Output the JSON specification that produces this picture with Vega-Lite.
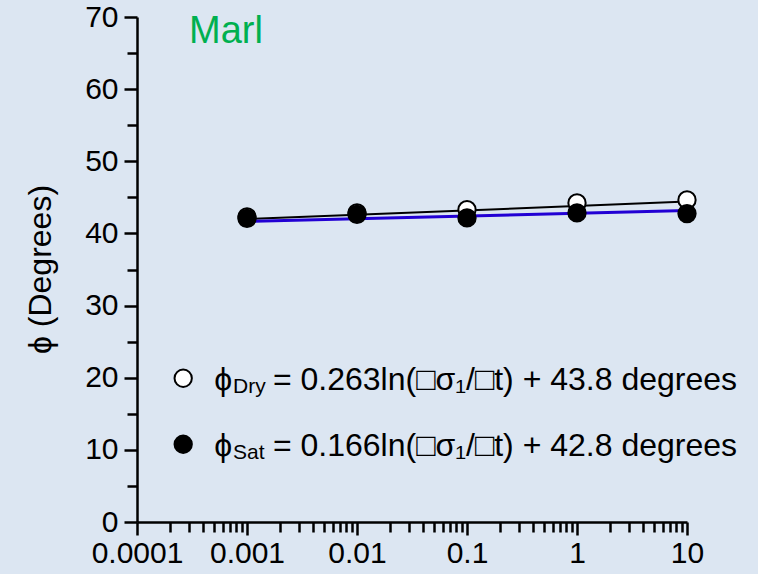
{
  "$schema": "https://vega.github.io/schema/vega-lite/v6.json",
  "width": 550,
  "height": 505,
  "autosize": "none",
  "padding": {"left": 137, "top": 17, "right": 71, "bottom": 52},
  "background": "#dce6f2",
  "config": {
    "view": {"stroke": null},
    "font": "Liberation Sans",
    "axis": {
      "grid": false,
      "domainColor": "black",
      "domainWidth": 2.5,
      "tickColor": "black",
      "tickWidth": 2.5,
      "labelFont": "Liberation Sans",
      "labelFontSize": 30,
      "labelColor": "black",
      "labelFlush": false,
      "labelOverlap": false,
      "labelBound": false,
      "titleFont": "Liberation Sans",
      "titleColor": "black",
      "titleFontWeight": "normal"
    }
  },
  "datasets": {
    "measured": [
      {"rate": 0.001, "phi": 42.3, "series": "Dry"},
      {"rate": 0.01, "phi": 42.84, "series": "Dry"},
      {"rate": 0.1, "phi": 43.3, "series": "Dry"},
      {"rate": 1, "phi": 44.23, "series": "Dry"},
      {"rate": 10, "phi": 44.65, "series": "Dry"},
      {"rate": 0.001, "phi": 42.08, "series": "Sat"},
      {"rate": 0.01, "phi": 42.63, "series": "Sat"},
      {"rate": 0.1, "phi": 42.15, "series": "Sat"},
      {"rate": 1, "phi": 42.84, "series": "Sat"},
      {"rate": 10, "phi": 42.75, "series": "Sat"}
    ],
    "fits": [
      {"rate": 0.001, "phi": 41.98, "series": "Dry"},
      {"rate": 10, "phi": 44.41, "series": "Dry"},
      {"rate": 0.001, "phi": 41.65, "series": "Sat"},
      {"rate": 10, "phi": 43.18, "series": "Sat"}
    ]
  },
  "layer": [
    {
      "data": {"name": "fits"},
      "transform": [{"filter": "datum.series === 'Dry'"}],
      "mark": {"type": "line", "color": "black", "strokeWidth": 2},
      "encoding": {
        "x": {
          "field": "rate", "type": "quantitative",
          "scale": {"type": "log", "domain": [0.0001, 10]},
          "axis": {
            "orient": "bottom", "title": null,
            "values": [0.0001, 0.001, 0.01, 0.1, 1, 10],
            "format": "~g", "tickSize": 13, "labelPadding": 3
          }
        },
        "y": {
          "field": "phi", "type": "quantitative",
          "scale": {"domain": [0, 70]},
          "axis": {
            "orient": "left",
            "title": "ϕ (Degrees)",
            "titleFontSize": 32,
            "titleAngle": 270,
            "titleX": -97,
            "titleY": 252,
            "titleAlign": "center",
            "titleBaseline": "middle",
            "values": [0, 10, 20, 30, 40, 50, 60, 70],
            "tickSize": 13, "labelPadding": 6
          }
        }
      }
    },
    {
      "data": {"name": "fits"},
      "transform": [{"filter": "datum.series === 'Sat'"}],
      "mark": {"type": "line", "color": "#2200d4", "strokeWidth": 3},
      "encoding": {
        "x": {"field": "rate", "type": "quantitative", "axis": null},
        "y": {"field": "phi", "type": "quantitative", "axis": null}
      }
    },
    {
      "data": {"name": "measured"},
      "transform": [{"filter": "datum.series === 'Dry'"}],
      "mark": {"type": "circle", "fill": "white", "stroke": "black", "strokeWidth": 2, "size": 300, "opacity": 1},
      "encoding": {
        "x": {
          "field": "rate", "type": "quantitative",
          "axis": {
            "orient": "bottom", "title": null, "domain": false, "labels": false,
            "tickSize": 10,
            "values": [0.0002, 0.0003, 0.0004, 0.0005, 0.0006, 0.0007, 0.0008, 0.0009,
                       0.002, 0.003, 0.004, 0.005, 0.006, 0.007, 0.008, 0.009,
                       0.02, 0.03, 0.04, 0.05, 0.06, 0.07, 0.08, 0.09,
                       0.2, 0.3, 0.4, 0.5, 0.6, 0.7, 0.8, 0.9,
                       2, 3, 4, 5, 6, 7, 8, 9]
          }
        },
        "y": {
          "field": "phi", "type": "quantitative",
          "axis": {
            "orient": "left", "title": null, "domain": false, "labels": false,
            "tickSize": 10,
            "values": [5, 15, 25, 35, 45, 55, 65]
          }
        }
      }
    },
    {
      "data": {"name": "measured"},
      "transform": [{"filter": "datum.series === 'Sat'"}],
      "mark": {"type": "circle", "fill": "black", "stroke": "black", "strokeWidth": 2, "size": 300, "opacity": 1},
      "encoding": {
        "x": {"field": "rate", "type": "quantitative", "axis": null},
        "y": {"field": "phi", "type": "quantitative", "axis": null}
      }
    },
    {
      "data": {"values": [{"label": "Marl"}]},
      "mark": {"type": "text", "align": "left", "baseline": "alphabetic", "fontSize": 38, "color": "#00b050"},
      "encoding": {
        "x": {"datum": 0.000297, "axis": null},
        "y": {"datum": 66.4, "axis": null},
        "text": {"field": "label"}
      }
    },
    {
      "data": {"values": [{"series": "Dry"}]},
      "mark": {"type": "circle", "fill": "white", "stroke": "black", "strokeWidth": 2, "size": 300, "opacity": 1},
      "encoding": {
        "x": {"datum": 0.000263, "axis": null},
        "y": {"datum": 19.93, "axis": null}
      }
    },
    {
      "data": {"values": [{"series": "Sat"}]},
      "mark": {"type": "circle", "fill": "black", "stroke": "black", "strokeWidth": 2, "size": 300, "opacity": 1},
      "encoding": {
        "x": {"datum": 0.000263, "axis": null},
        "y": {"datum": 10.78, "axis": null}
      }
    },
    {
      "data": {"values": [{"label": "ϕ"}]},
      "mark": {"type": "text", "align": "left", "baseline": "alphabetic", "fontSize": 32, "color": "black"},
      "encoding": {
        "x": {"datum": 0.000505, "axis": null},
        "y": {"datum": 18.3, "axis": null},
        "text": {"field": "label"}
      }
    },
    {
      "data": {"values": [{"label": "Dry"}]},
      "mark": {"type": "text", "align": "left", "baseline": "alphabetic", "fontSize": 21, "dy": 3, "color": "black"},
      "encoding": {
        "x": {"datum": 0.000746, "axis": null},
        "y": {"datum": 18.3, "axis": null},
        "text": {"field": "label"}
      }
    },
    {
      "data": {"values": [{"label": "= 0.263ln(□σ₁/□t) + 43.8 degrees"}]},
      "mark": {"type": "text", "align": "left", "baseline": "alphabetic", "fontSize": 32, "color": "black"},
      "encoding": {
        "x": {"datum": 0.00172, "axis": null},
        "y": {"datum": 18.3, "axis": null},
        "text": {"field": "label"}
      }
    },
    {
      "data": {"values": [{"label": "ϕ"}]},
      "mark": {"type": "text", "align": "left", "baseline": "alphabetic", "fontSize": 32, "color": "black"},
      "encoding": {
        "x": {"datum": 0.000505, "axis": null},
        "y": {"datum": 9.11, "axis": null},
        "text": {"field": "label"}
      }
    },
    {
      "data": {"values": [{"label": "Sat"}]},
      "mark": {"type": "text", "align": "left", "baseline": "alphabetic", "fontSize": 21, "dy": 3, "color": "black"},
      "encoding": {
        "x": {"datum": 0.000746, "axis": null},
        "y": {"datum": 9.11, "axis": null},
        "text": {"field": "label"}
      }
    },
    {
      "data": {"values": [{"label": "= 0.166ln(□σ₁/□t) + 42.8 degrees"}]},
      "mark": {"type": "text", "align": "left", "baseline": "alphabetic", "fontSize": 32, "color": "black"},
      "encoding": {
        "x": {"datum": 0.00172, "axis": null},
        "y": {"datum": 9.11, "axis": null},
        "text": {"field": "label"}
      }
    }
  ],
  "resolve": {"axis": {"x": "independent", "y": "independent"}}
}
